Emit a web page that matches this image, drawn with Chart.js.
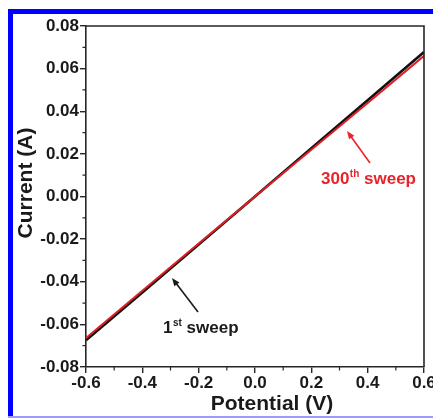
<!DOCTYPE html>
<html>
<head>
<meta charset="utf-8">
<script src="https://cdn.jsdelivr.net/npm/chart.js@4"></script>
<style>
html,body{margin:0;padding:0;background:#fff;overflow:hidden;width:433px;height:418px;}
#wrap{position:absolute;left:0;top:0;width:445px;height:418px;}
</style>
</head>
<body>
<div id="wrap"><canvas id="c" width="445" height="418"></canvas></div>
<script>
// Data
const potential = [-0.6, -0.4, -0.2, 0.0, 0.2, 0.4, 0.6];
const current1st = [-0.0675, -0.0450, -0.0225, 0.0000, 0.0226, 0.0452, 0.0678];
const current300th = [-0.0664, -0.0442, -0.0221, 0.0000, 0.0219, 0.0439, 0.0660];
const xTickValues = [-0.6, -0.4, -0.2, 0.0, 0.2, 0.4, 0.6];
const yTickValues = [-0.08, -0.06, -0.04, -0.02, 0.00, 0.02, 0.04, 0.06, 0.08];
const xTitle = 'Potential (V)';
const yTitle = 'Current (A)';

const FONT = '"Liberation Sans", Arial, Helvetica, sans-serif';
const AXIS = '#262626';

const toPts = (xs, ys) => xs.map((x, i) => ({x: x, y: ys[i]}));

const decor = {
  id: 'decor',
  beforeDraw(chart) {
    const ctx = chart.ctx;
    ctx.save();
    ctx.fillStyle = '#0000ff';
    ctx.fillRect(8, 9, 445, 5);
    ctx.fillRect(8, 9, 5, 409);
    ctx.fillStyle = '#9a9aff';
    ctx.fillRect(8, 416, 445, 2);
    ctx.restore();
  },
  afterDraw(chart) {
    const ctx = chart.ctx;
    const a = chart.chartArea;
    const xs = chart.scales.x, ys = chart.scales.y;
    ctx.save();
    // frame top/right
    ctx.strokeStyle = AXIS;
    ctx.lineWidth = 1.6;
    ctx.beginPath();
    ctx.moveTo(a.left, a.top);
    ctx.lineTo(a.right, a.top);
    ctx.lineTo(a.right, a.bottom);
    ctx.stroke();
    // minor ticks
    ctx.lineWidth = 1.2;
    ctx.beginPath();
    for (let i = 0; i < xTickValues.length - 1; i++) {
      const px = xs.getPixelForValue((xTickValues[i] + xTickValues[i + 1]) / 2);
      ctx.moveTo(px, a.bottom);
      ctx.lineTo(px, a.bottom + 3.5);
    }
    for (let i = 0; i < yTickValues.length - 1; i++) {
      const py = ys.getPixelForValue((yTickValues[i] + yTickValues[i + 1]) / 2);
      ctx.moveTo(a.left, py);
      ctx.lineTo(a.left - 3.5, py);
    }
    ctx.stroke();
    // axis titles
    ctx.fillStyle = '#1a1a1a';
    ctx.font = 'bold 21px ' + FONT;
    ctx.textAlign = 'center';
    ctx.textBaseline = 'alphabetic';
    ctx.fillText(xTitle, 272, 410);
    ctx.save();
    ctx.translate(32, 183);
    ctx.rotate(-Math.PI / 2);
    ctx.fillText(yTitle, 0, 0);
    ctx.restore();

    // annotations
    function arrow(x1, y1, x2, y2, color) {
      const ang = Math.atan2(y2 - y1, x2 - x1);
      const hl = 8, hw = 3.2;
      ctx.strokeStyle = color;
      ctx.fillStyle = color;
      ctx.lineWidth = 1.6;
      ctx.beginPath();
      ctx.moveTo(x1, y1);
      ctx.lineTo(x2 - Math.cos(ang) * hl * 0.8, y2 - Math.sin(ang) * hl * 0.8);
      ctx.stroke();
      ctx.beginPath();
      ctx.moveTo(x2, y2);
      ctx.lineTo(x2 - Math.cos(ang) * hl + Math.sin(ang) * hw, y2 - Math.sin(ang) * hl - Math.cos(ang) * hw);
      ctx.lineTo(x2 - Math.cos(ang) * hl - Math.sin(ang) * hw, y2 - Math.sin(ang) * hl + Math.cos(ang) * hw);
      ctx.closePath();
      ctx.fill();
    }
    function supText(x, y, main, sup, rest, color) {
      ctx.fillStyle = color;
      ctx.textAlign = 'left';
      ctx.textBaseline = 'alphabetic';
      ctx.font = 'bold 17px ' + FONT;
      ctx.fillText(main, x, y);
      let w = ctx.measureText(main).width;
      ctx.font = 'bold 10px ' + FONT;
      ctx.fillText(sup, x + w + 0.5, y - 7);
      w += ctx.measureText(sup).width + 0.5;
      ctx.font = 'bold 17px ' + FONT;
      ctx.fillText(rest, x + w, y);
    }
    arrow(370, 163, 347, 131, '#e8232b');
    supText(321, 184, '300', 'th', ' sweep', '#e8232b');
    arrow(198, 312, 172, 278, '#1a1a1a');
    supText(163, 333, '1', 'st', ' sweep', '#1a1a1a');
    ctx.restore();
  }
};

new Chart(document.getElementById('c'), {
  type: 'line',
  data: {
    datasets: [
      {
        label: '1st sweep',
        data: toPts(potential, current1st),
        borderColor: '#111111',
        borderWidth: 2.6,
        pointRadius: 0,
        tension: 0,
        order: 1
      },
      {
        label: '300th sweep',
        data: toPts(potential, current300th),
        borderColor: '#e01f27',
        borderWidth: 2,
        pointRadius: 0,
        tension: 0,
        order: 0
      }
    ]
  },
  options: {
    responsive: false,
    animation: false,
    events: [],
    layout: {padding: {top: 26, right: 21, left: 0, bottom: 0}},
    plugins: {legend: {display: false}, tooltip: {enabled: false}},
    scales: {
      x: {
        type: 'linear',
        min: -0.6,
        max: 0.6,
        afterBuildTicks(s) { s.ticks = xTickValues.map(v => ({value: v})); },
        afterFit(s) { s.height = 51; },
        ticks: {
          font: {family: FONT, size: 17, weight: 'bold'},
          color: '#1a1a1a',
          padding: 0,
          maxRotation: 0,
          callback: v => Number(v).toFixed(1)
        },
        grid: {drawOnChartArea: false, drawTicks: true, tickLength: 6, color: AXIS, lineWidth: 1.4},
        border: {display: true, color: AXIS, width: 1.6}
      },
      y: {
        type: 'linear',
        min: -0.08,
        max: 0.08,
        afterBuildTicks(s) { s.ticks = yTickValues.map(v => ({value: v})); },
        afterFit(s) { s.width = 86; },
        ticks: {
          font: {family: FONT, size: 17, weight: 'bold'},
          color: '#1a1a1a',
          padding: 1,
          callback: v => Number(v).toFixed(2)
        },
        grid: {drawOnChartArea: false, drawTicks: true, tickLength: 6, color: AXIS, lineWidth: 1.4},
        border: {display: true, color: AXIS, width: 1.6}
      }
    }
  },
  plugins: [decor]
});
</script>
</body>
</html>
